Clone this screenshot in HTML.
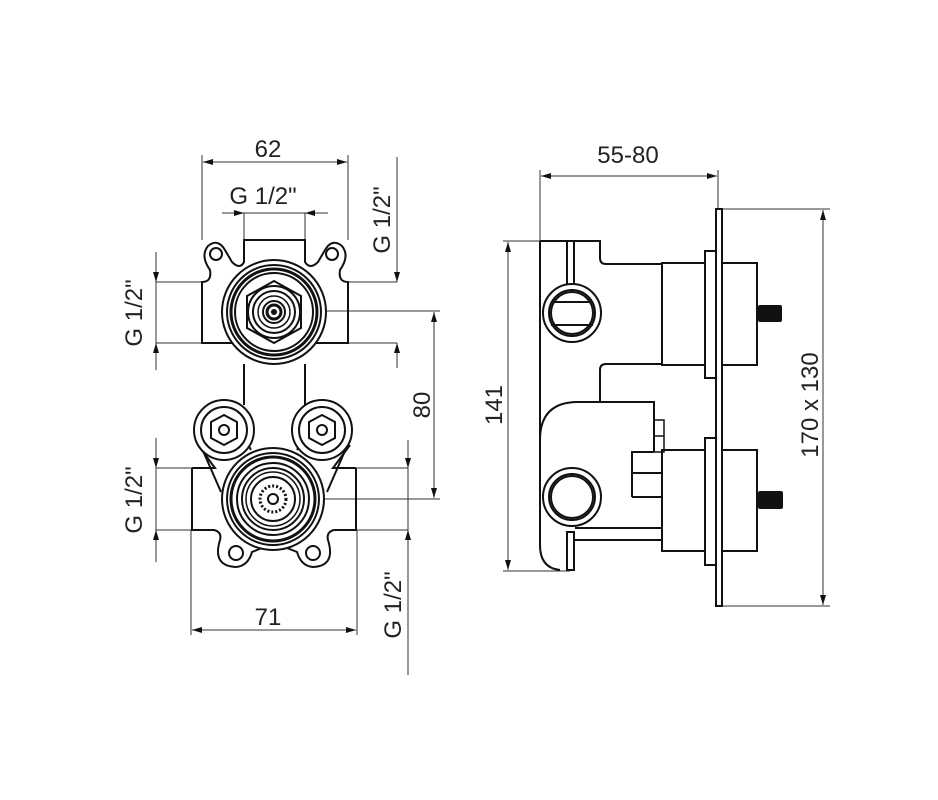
<!DOCTYPE html>
<html><head><meta charset="utf-8"><style>
html,body{margin:0;padding:0;background:#fff;}
svg{display:block;}
text{font-family:"Liberation Sans",sans-serif;font-size:24px;fill:#222;}
</style></head><body>
<svg width="938" height="800" viewBox="0 0 938 800" xmlns="http://www.w3.org/2000/svg">
<defs>
<marker id="a" viewBox="0 0 10 6" refX="10" refY="3" markerWidth="10" markerHeight="6" markerUnits="userSpaceOnUse" orient="auto-start-reverse"><path d="M0,0 L10,3 L0,6 z" fill="#111"/></marker>
</defs>
<g stroke="#333" stroke-width="1" fill="none">
<!-- 62 -->
<line x1="202" y1="155" x2="202" y2="240"/><line x1="348" y1="155" x2="348" y2="240"/>
<line x1="203" y1="162" x2="347" y2="162" marker-start="url(#a)" marker-end="url(#a)"/>
<!-- G top -->
<line x1="244" y1="213" x2="244" y2="240"/><line x1="305" y1="213" x2="305" y2="240"/>
<line x1="222" y1="213" x2="244" y2="213" marker-end="url(#a)"/>
<line x1="328" y1="213" x2="305" y2="213" marker-end="url(#a)"/>
<line x1="244" y1="213" x2="305" y2="213"/>
<!-- right top G -->
<line x1="348" y1="282" x2="397" y2="282"/><line x1="348" y1="343" x2="397" y2="343"/>
<line x1="397" y1="157" x2="397" y2="282" marker-end="url(#a)"/>
<line x1="397" y1="368" x2="397" y2="343" marker-end="url(#a)"/>
<!-- left top G -->
<line x1="156" y1="282" x2="202" y2="282"/><line x1="156" y1="343" x2="244" y2="343"/>
<line x1="156" y1="252" x2="156" y2="282" marker-end="url(#a)"/>
<line x1="156" y1="370" x2="156" y2="343" marker-end="url(#a)"/>
<line x1="156" y1="282" x2="156" y2="343"/>
<!-- 80 -->
<line x1="322" y1="311" x2="440" y2="311"/><line x1="322" y1="499" x2="440" y2="499"/>
<line x1="434" y1="312" x2="434" y2="498" marker-start="url(#a)" marker-end="url(#a)"/>
<!-- left bottom G -->
<line x1="156" y1="468" x2="192" y2="468"/><line x1="156" y1="530" x2="192" y2="530"/>
<line x1="156" y1="438" x2="156" y2="468" marker-end="url(#a)"/>
<line x1="156" y1="562" x2="156" y2="530" marker-end="url(#a)"/>
<line x1="156" y1="468" x2="156" y2="530"/>
<!-- right bottom G -->
<line x1="356" y1="468" x2="408" y2="468"/><line x1="356" y1="530" x2="408" y2="530"/>
<line x1="408" y1="440" x2="408" y2="468" marker-end="url(#a)"/>
<line x1="408" y1="675" x2="408" y2="530" marker-end="url(#a)"/>
<line x1="408" y1="468" x2="408" y2="530"/>
<!-- 71 -->
<line x1="191" y1="530" x2="191" y2="635"/><line x1="357" y1="530" x2="357" y2="635"/>
<line x1="192" y1="630" x2="356" y2="630" marker-start="url(#a)" marker-end="url(#a)"/>
<!-- right view dims -->
<line x1="540" y1="170" x2="540" y2="241"/><line x1="718" y1="170" x2="718" y2="209"/>
<line x1="541" y1="176" x2="717" y2="176" marker-start="url(#a)" marker-end="url(#a)"/>
<line x1="503" y1="241" x2="540" y2="241"/><line x1="503" y1="571" x2="570" y2="571"/>
<line x1="508" y1="242" x2="508" y2="570" marker-start="url(#a)" marker-end="url(#a)"/>
<line x1="722" y1="209" x2="830" y2="209"/><line x1="722" y1="606" x2="830" y2="606"/>
<line x1="823" y1="210" x2="823" y2="605" marker-start="url(#a)" marker-end="url(#a)"/>
</g>

<g stroke="#111" stroke-width="2" fill="none">
<!-- top block -->
<path d="M244,240 H305 V262 Q310,270 318,262 L325,250 Q332,238 342,246 Q350,256 340,270 Q338,282 348,282 V343 H202 V282 Q212,282 210,270 Q200,256 208,246 Q218,238 225,250 L232,262 Q240,270 244,262 Z"/>
<circle cx="216" cy="254" r="6"/><circle cx="332" cy="254" r="6"/>
<circle cx="274" cy="312" r="52" fill="#fff"/>
<circle cx="274" cy="312" r="47"/>
<circle cx="274" cy="312" r="43" stroke-width="3"/>
<circle cx="274" cy="312" r="39"/>
<polygon points="274,281 301,296 301,328 274,343 247,328 247,296"/>
<circle cx="274" cy="312" r="26"/>
<circle cx="274" cy="312" r="21"/>
<circle cx="274" cy="312" r="16" stroke-width="1.5"/>
<circle cx="274" cy="312" r="11"/>
<circle cx="274" cy="312" r="7" stroke-width="3"/>
<circle cx="274" cy="312" r="2" fill="#111"/>
<!-- stem -->
<line x1="244" y1="364" x2="244" y2="405"/><line x1="305" y1="364" x2="305" y2="405"/>
<!-- bottom block -->
<path d="M192,468 H215 L198,445 M356,468 H333 L350,445 M192,468 V530 H214 Q222,532 220,540 Q212,566 236,567 Q248,566 252,552 L262,548 M356,468 V530 H334 Q326,532 328,540 Q336,566 313,567 Q301,566 297,552 L287,548"/>
<path d="M221,492 L200,444 M327,492 L348,444 M251,450 L240,430 M297,450 L308,430"/>
<circle cx="236" cy="553" r="7"/><circle cx="313" cy="553" r="7"/>
<circle cx="224" cy="430" r="30" fill="#fff"/>
<circle cx="224" cy="430" r="23"/>
<polygon points="224,415 237,422 237,438 224,445 211,438 211,422"/>
<circle cx="224" cy="430" r="5"/>
<circle cx="322" cy="430" r="30" fill="#fff"/>
<circle cx="322" cy="430" r="23"/>
<polygon points="322,415 335,422 335,438 322,445 309,438 309,422"/>
<circle cx="322" cy="430" r="5"/>
<circle cx="273" cy="499" r="51" fill="#fff"/>
<circle cx="273" cy="499" r="46"/>
<circle cx="273" cy="499" r="42" stroke-width="3"/>
<circle cx="273" cy="499" r="36"/>
<circle cx="273" cy="499" r="31"/>
<circle cx="273" cy="499" r="27" stroke-width="1.5"/>
<circle cx="273" cy="499" r="22"/>
<circle cx="273" cy="499" r="13" stroke-width="3" stroke-dasharray="2 2"/>
<circle cx="273" cy="499" r="5"/>

<!-- right view -->
<path d="M540,241 H600 V258 Q600,264 606,264 H662 M662,364 H606 Q600,364 600,370 V402 M540,241 V545 Q540,568 560,570"/>
<path d="M540,440 Q540,402 578,402 H654 V452 M654,452 H632 V462 M632,462 V497 M632,473 H662 M632,497 H662 M575,528 H662 M575,540 H662"/>
<rect x="654" y="420" width="10" height="32" stroke-width="1.5"/>
<line x1="654" y1="436" x2="664" y2="436" stroke-width="1.5"/>
<rect x="567" y="241" width="7" height="44" fill="#fff"/>
<rect x="567" y="532" width="7" height="38" fill="#fff"/>
<circle cx="572" cy="313" r="29" fill="#fff"/><circle cx="572" cy="313" r="23"/><circle cx="572" cy="313" r="21"/>
<line x1="551" y1="302" x2="593" y2="302"/><line x1="551" y1="325" x2="593" y2="325"/>
<circle cx="572" cy="497" r="29" fill="#fff"/><circle cx="572" cy="497" r="23"/><circle cx="572" cy="497" r="21"/>
<rect x="662" y="263" width="95" height="102"/>
<rect x="662" y="450" width="95" height="101"/>
<rect x="705" y="251" width="11" height="127" fill="#fff"/>
<rect x="705" y="438" width="11" height="127" fill="#fff"/>
<rect x="716" y="209" width="6" height="397" fill="#fff"/>
</g>
<rect x="758" y="305" width="24" height="17" fill="#111" rx="2"/>
<rect x="758" y="491" width="25" height="18" fill="#111" rx="2"/>

<text x="268" y="157" text-anchor="middle">62</text>
<text x="263" y="204" text-anchor="middle">G 1/2"</text>
<text x="268" y="625" text-anchor="middle">71</text>
<text x="628" y="163" text-anchor="middle">55-80</text>
<text transform="translate(390,220) rotate(-90)" text-anchor="middle">G 1/2"</text>
<text transform="translate(142,313) rotate(-90)" text-anchor="middle">G 1/2"</text>
<text transform="translate(142,500) rotate(-90)" text-anchor="middle">G 1/2"</text>
<text transform="translate(401,605) rotate(-90)" text-anchor="middle">G 1/2"</text>
<text transform="translate(430,405) rotate(-90)" text-anchor="middle">80</text>
<text transform="translate(502,405) rotate(-90)" text-anchor="middle">141</text>
<text transform="translate(818,405) rotate(-90)" text-anchor="middle">170 x 130</text>
</svg>
</body></html>
